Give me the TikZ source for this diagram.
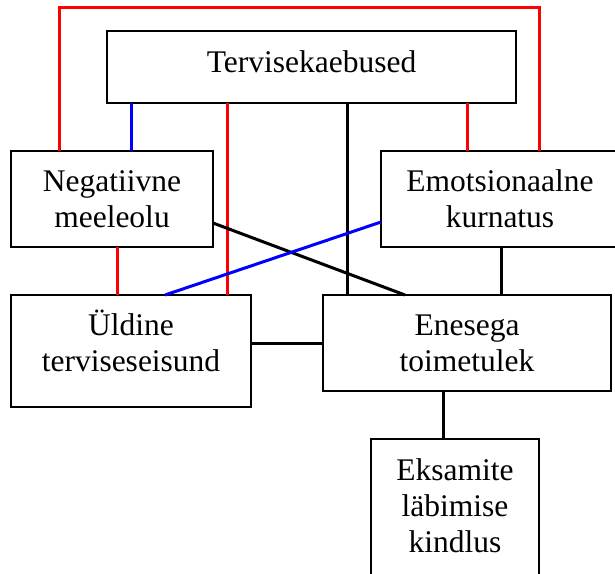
\documentclass[tikz,border=0pt]{standalone}
\usepackage{fontspec}
\setmainfont{Liberation Serif}
\usepackage{tikz}

\begin{document}
\begin{tikzpicture}[x=1pt,y=-1pt,
  kast/.style={draw,line width=2.4pt,align=center,anchor=north,
               inner xsep=0pt,inner ysep=0pt,outer sep=0pt,
               font=\fontsize{31.5}{36}\selectfont},
  punane/.style={red,line width=3pt},
  sinine/.style={blue,line width=3pt},
  must/.style={black,line width=3pt}]
\useasboundingbox (0,0) rectangle (615,573);

\node[kast,minimum width=409pt,text height=41pt,text depth=31pt] (terv) at (311.5,31) {Tervisekaebused};
\node[kast,minimum width=202pt,text height=76pt,text depth=20pt] (neg) at (112,151) {Negatiivne\\meeleolu};
\node[kast,minimum width=238pt,text height=76pt,text depth=20pt] (emo) at (500,151) {Emotsionaalne\\kurnatus};
\node[kast,minimum width=240pt,text height=76pt,text depth=36pt] (yld) at (131,295) {Üldine\\terviseseisund};
\node[kast,minimum width=288pt,text height=76pt,text depth=20pt] (ene) at (467,295) {Enesega\\toimetulek};
\node[kast,minimum width=168pt,text height=113pt,text depth=87pt] (eks) at (455,439) {Eksamite\\läbimise\\kindlus};

% ylemine punane kaar
\coordinate (vasak) at (59,7);
\coordinate (parem) at (539,7);
\draw[punane] (neg.north -| vasak) -- (vasak) -- (parem) -- (emo.north -| parem);

% vertikaalsed seosed
\foreach \x/\a/\b/\v in {131/terv/neg/sinine, 227/terv/yld/punane,
                         347/terv/ene/must, 467/terv/emo/punane,
                         117/neg/yld/punane, 501/emo/ene/must,
                         443/ene/eks/must}
  \draw[\v] (\a.south -| \x,0) -- (\b.north -| \x,0);

% diagonaalid
\draw[must] ([yshift=24pt]neg.south east) -- (ene.north -| 405,0);
\draw[sinine] ([yshift=25pt]emo.south west) -- (yld.north -| 165,0);
\draw[must] (ene.west -| yld.east) -- (ene.west);
\end{tikzpicture}
\end{document}
